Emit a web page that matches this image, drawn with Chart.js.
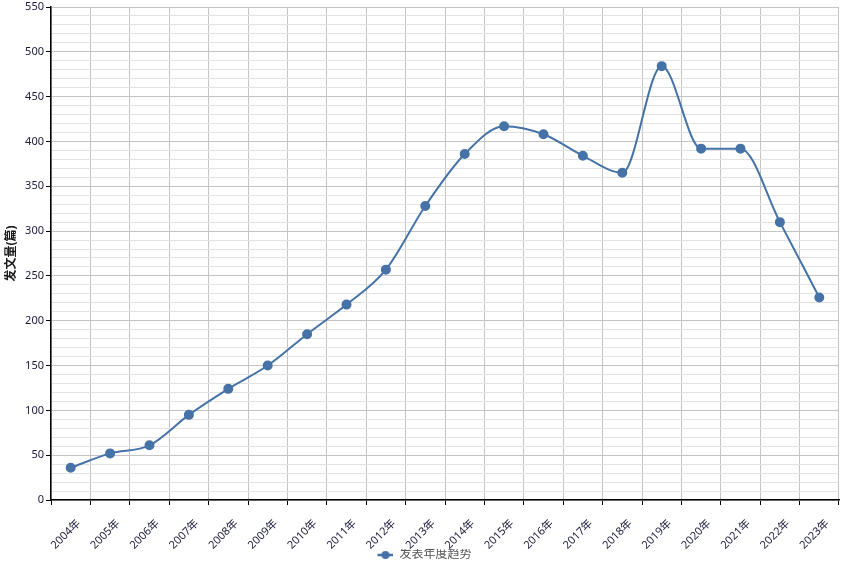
<!DOCTYPE html>
<html>
<head>
<meta charset="utf-8">
<script src="https://cdn.jsdelivr.net/npm/chart.js@4.4.0/dist/chart.umd.min.js"></script>
<style>
  html, body { margin: 0; padding: 0; background: #fff; }
  #wrap { width: 853px; height: 564px; }
</style>
</head>
<body>
<div id="wrap"><canvas id="trendChart"></canvas></div>
<script>
// data
const years = ["2004年", "2005年", "2006年", "2007年", "2008年", "2009年", "2010年", "2011年", "2012年", "2013年",
               "2014年", "2015年", "2016年", "2017年", "2018年", "2019年", "2020年", "2021年", "2022年", "2023年"];
const paperCounts = [36, 52, 61, 95, 124, 150, 185, 218, 257, 328, 386, 417, 408, 384, 365, 484, 392, 392, 310, 226];
const seriesName = "发表年度趋势";
const axisTitle = "发文量(篇)";

const lineColor = "#4572a7";
const fontFamily = "'Noto Sans', 'Noto Sans CJK SC', sans-serif";

// legend marker: short line with a dot (left part left blank to nudge the item right)
function legendMarker() {
    let c = document.createElement("canvas");
    c.width = 26; c.height = 10;
    let g = c.getContext("2d");
    g.strokeStyle = lineColor;
    g.lineWidth = 2.5;
    g.beginPath(); g.moveTo(10, 5); g.lineTo(26, 5); g.stroke();
    g.fillStyle = lineColor;
    g.beginPath(); g.arc(18, 5, 4, 0, Math.PI * 2); g.fill();
    return c;
}

let ctx = document.getElementById("trendChart").getContext("2d");
let trendChart = new Chart(ctx, {
    type: "line",
    data: {
        labels: years,
        datasets: [{
            label: seriesName,
            data: paperCounts,
            borderColor: lineColor,
            backgroundColor: lineColor,
            borderWidth: 2,
            cubicInterpolationMode: "monotone",
            fill: false,
            pointRadius: 4,
            pointHoverRadius: 5,
            pointBackgroundColor: lineColor,
            pointBorderColor: lineColor,
            pointStyle: "circle"
        }]
    },
    options: {
        responsive: true,
        maintainAspectRatio: false,
        animation: false,
        layout: { padding: { top: 5, right: 14, left: 0, bottom: -7 } },
        scales: {
            x: {
                offset: true,
                afterFit: s => { s.height = 49; s.paddingLeft = 0; s.paddingRight = 0; },
                grid: {
                    offset: true,
                    color: "#c4c4c4",
                    tickColor: "#000",
                    tickLength: 5,
                    drawOnChartArea: true
                },
                border: { color: "#000", width: 1.5 },
                ticks: {
                    color: "#1a1a3a",
                    font: { family: fontFamily, size: 11 },
                    maxRotation: 45,
                    minRotation: 45,
                    autoSkip: false,
                    padding: 12,
                    labelOffset: 8
                }
            },
            y: {
                min: 0,
                max: 550,
                afterFit: s => { s.width = 51; s.paddingTop = 0; s.paddingBottom = 0; },
                grid: {
                    color: c => (c.tick && c.tick.value % 50 === 0) ? "#c4c4c4" : "#e2e2e2",
                    tickColor: c => (c.tick && c.tick.value % 50 === 0) ? "#000" : "rgba(0,0,0,0)",
                    tickLength: 5
                },
                border: { color: "#000", width: 1.5 },
                ticks: {
                    stepSize: 10,
                    autoSkip: false,
                    color: "#1a1a3a",
                    font: { family: fontFamily, size: 11 },
                    padding: 2,
                    callback: v => (v % 50 === 0 ? v : "")
                },
                title: {
                    display: true,
                    text: axisTitle,
                    color: "#1a1a1a",
                    font: { family: fontFamily, size: 12, weight: "bold" },
                    padding: { top: 4, bottom: 4 }
                }
            }
        },
        plugins: {
            legend: {
                position: "bottom",
                labels: {
                    usePointStyle: true,
                    pointStyle: legendMarker(),
                    pointStyleWidth: 26,
                    color: "#555",
                    font: { family: fontFamily, size: 12 },
                    padding: 0
                }
            },
            tooltip: { enabled: false }
        }
    }
});
</script>
</body>
</html>
